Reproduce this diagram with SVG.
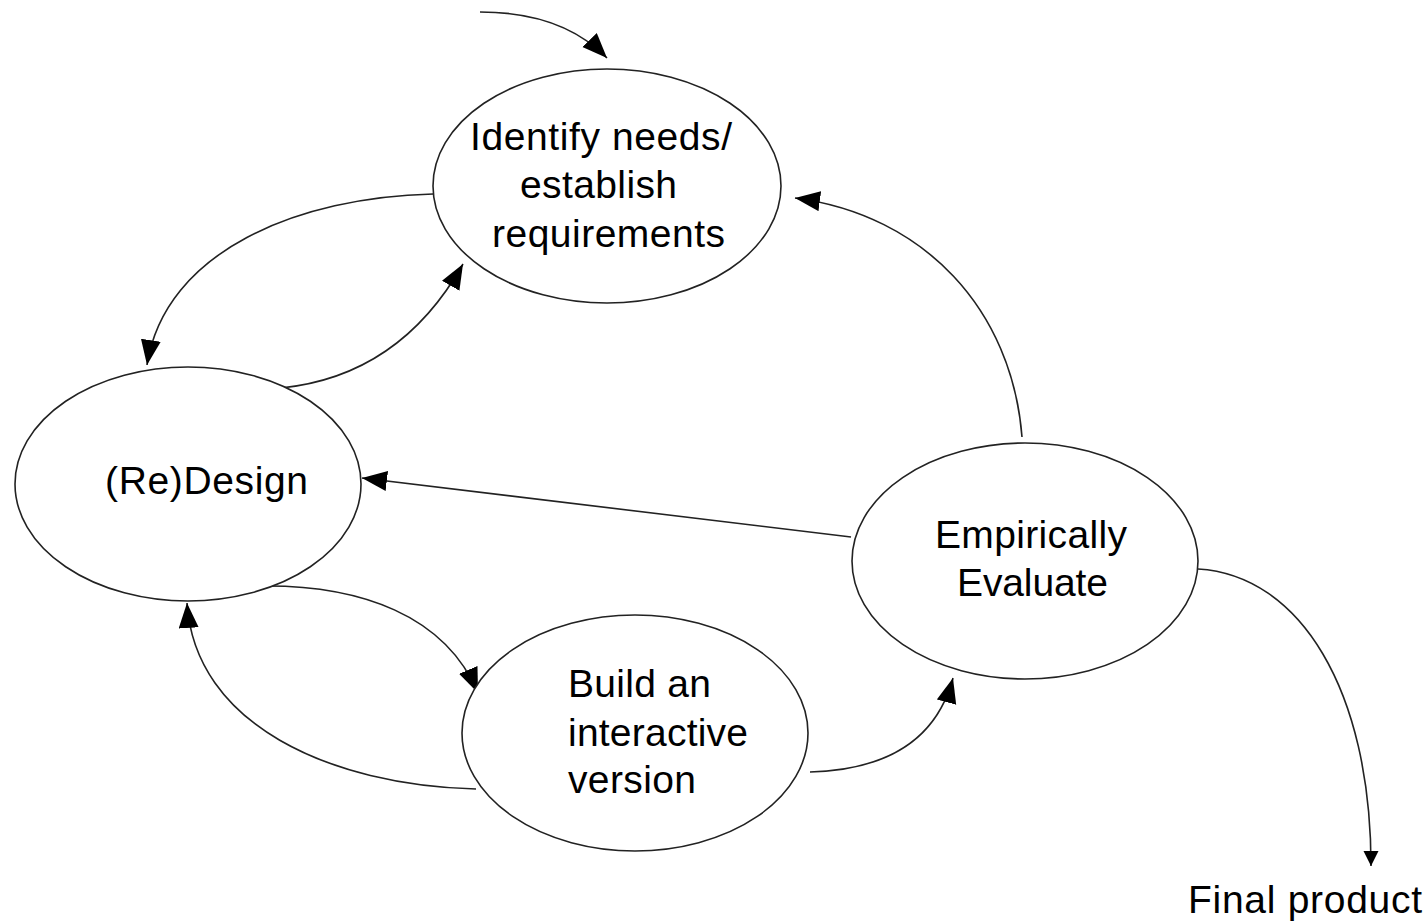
<svg xmlns="http://www.w3.org/2000/svg" width="1428" height="923" viewBox="0 0 1428 923">
  <style>
    .node { fill: #ffffff; stroke: #222222; stroke-width: 1.6; }
    .label { font-family: "Liberation Sans", Arial, sans-serif; font-size: 39px; fill: #000000; }
    .link { fill: none; stroke: #222222; stroke-width: 1.6; }
  </style>
  <defs>
    <marker id="head" markerUnits="userSpaceOnUse" markerWidth="26" markerHeight="22" refX="25" refY="10" orient="auto">
      <path d="M0,0 L25,10 L0,20 z" fill="#000000"/>
    </marker>
    <marker id="headSmall" markerUnits="userSpaceOnUse" markerWidth="16" markerHeight="16" refX="15" refY="7.5" orient="auto">
      <path d="M0,0 L15,7.5 L0,15 z" fill="#000000"/>
    </marker>
  </defs>

  <rect width="1428" height="923" fill="#ffffff"/>

  <g id="connectors">
    <!-- entry into the cycle -->
    <path class="link" marker-end="url(#head)" d="M480 12 C530 12, 575 25, 607 58"/>
    <!-- requirements to design -->
    <path class="link" marker-end="url(#head)" d="M433 194 C300 197, 165 250, 147 365"/>
    <!-- design back to requirements -->
    <path class="link" marker-end="url(#head)" d="M281 388 C360 380, 420 340, 463 264"/>
    <!-- evaluate to requirements -->
    <path class="link" marker-end="url(#head)" d="M1022 437 C1012 310, 925 215, 795 198"/>
    <!-- evaluate to design -->
    <path class="link" marker-end="url(#head)" d="M851 537 L362 478"/>
    <!-- design to build -->
    <path class="link" marker-end="url(#head)" d="M262 586 C360 585, 445 615, 478 693"/>
    <!-- build back to design -->
    <path class="link" marker-end="url(#head)" d="M476 789 C330 785, 195 725, 187 603"/>
    <!-- build to evaluate -->
    <path class="link" marker-end="url(#head)" d="M810 772 C880 770, 935 745, 953 678"/>
    <!-- evaluate to final product -->
    <path class="link" marker-end="url(#headSmall)" d="M1198 569 C1300 575, 1371 690, 1371 866"/>
  </g>

  <g id="identify">
    <ellipse class="node" cx="607" cy="186" rx="174" ry="117"/>
    <text class="label" x="470" y="150" textLength="262" lengthAdjust="spacing">Identify needs/</text>
    <text class="label" x="520" y="198" textLength="157" lengthAdjust="spacing">establish</text>
    <text class="label" x="492" y="247" textLength="233" lengthAdjust="spacing">requirements</text>
  </g>

  <g id="redesign">
    <ellipse class="node" cx="188" cy="484" rx="173" ry="117"/>
    <text class="label" x="105" y="494" textLength="203" lengthAdjust="spacing">(Re)Design</text>
  </g>

  <g id="evaluate">
    <ellipse class="node" cx="1025" cy="561" rx="173" ry="118"/>
    <text class="label" x="935" y="548" textLength="192" lengthAdjust="spacing">Empirically</text>
    <text class="label" x="957" y="596" textLength="151" lengthAdjust="spacing">Evaluate</text>
  </g>

  <g id="build">
    <ellipse class="node" cx="635" cy="733" rx="173" ry="118"/>
    <text class="label" x="568" y="697" textLength="143" lengthAdjust="spacing">Build an</text>
    <text class="label" x="568" y="746" textLength="180" lengthAdjust="spacing">interactive</text>
    <text class="label" x="568" y="793" textLength="128" lengthAdjust="spacing">version</text>
  </g>

  <g id="final">
    <text class="label" x="1188" y="913" textLength="234" lengthAdjust="spacing">Final product</text>
  </g>
</svg>
